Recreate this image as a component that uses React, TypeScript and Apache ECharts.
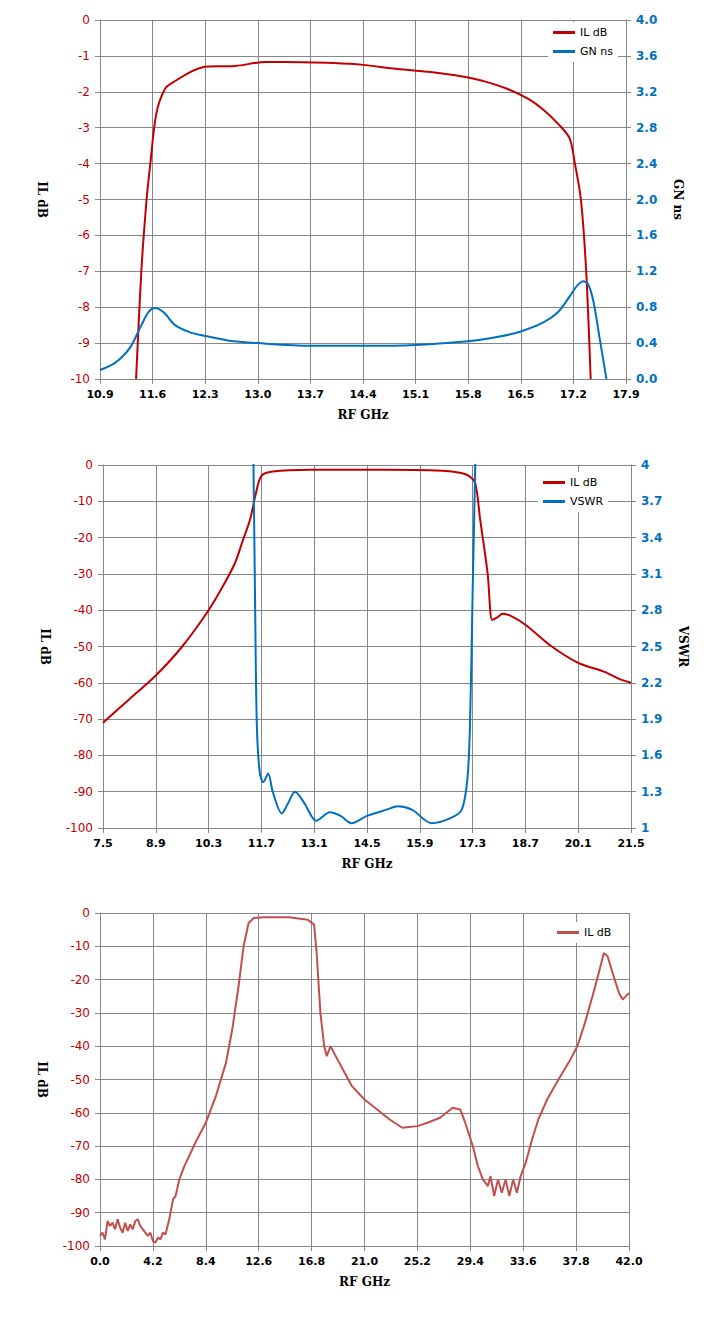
import React, { useEffect, useRef } from 'react'
import * as echarts from 'echarts'

// chart 1: IL dB + group delay
const il1Freq = [11.38, 11.45, 11.52, 11.57, 11.65, 11.77, 11.9, 12.1, 12.3, 12.7, 13.1, 13.6, 14.0, 14.4, 14.8, 15.3, 15.8, 16.0, 16.3, 16.6, 16.8, 17.0, 17.15, 17.22, 17.3, 17.37, 17.43]
const il1Val = [-10, -7, -5, -4, -2.6, -1.9, -1.7, -1.45, -1.3, -1.28, -1.17, -1.18, -1.2, -1.25, -1.35, -1.45, -1.6, -1.7, -1.9, -2.2, -2.5, -2.9, -3.3, -4, -5, -7, -10]
const gnFreq = [10.9, 11.1, 11.3, 11.45, 11.55, 11.63, 11.75, 11.9, 12.1, 12.3, 12.6, 13.0, 13.7, 14.4, 15.1, 15.8, 16.2, 16.5, 16.8, 17.0, 17.15, 17.25, 17.33, 17.4, 17.47, 17.55, 17.64]
const gnVal = [0.1, 0.18, 0.35, 0.6, 0.75, 0.79, 0.74, 0.6, 0.52, 0.48, 0.43, 0.4, 0.37, 0.37, 0.38, 0.42, 0.47, 0.53, 0.63, 0.75, 0.92, 1.04, 1.09, 1.05, 0.85, 0.45, 0]

// chart 2: IL dB + VSWR
const il2Freq = [7.5, 8.2, 8.9, 9.6, 10.3, 10.7, 11.0, 11.2, 11.4, 11.55, 11.7, 12.0, 13.0, 15.0, 16.5, 17.0, 17.2, 17.37, 17.5, 17.7, 17.82, 17.95, 18.1, 18.3, 18.7, 19.4, 20.1, 20.8, 21.2, 21.5]
const il2Val = [-71, -64.5, -58, -50, -40, -33, -27, -21, -15, -8, -3, -1.8, -1.3, -1.3, -1.6, -2.2, -3, -5, -15, -30, -42.7, -42, -41, -41.5, -44, -50, -54.5, -57, -59, -60]
const vswrFreq = [11.45, 11.49, 11.53, 11.58, 11.66, 11.75, 11.88, 12.0, 12.24, 12.4, 12.59, 12.85, 13.15, 13.52, 13.8, 14.09, 14.5, 15.0, 15.33, 15.7, 16.21, 16.7, 17.01, 17.16, 17.23, 17.3, 17.37, 17.42]
const vswrVal = [5, 4.0, 2.94, 1.84, 1.45, 1.38, 1.45, 1.3, 1.12, 1.2, 1.3, 1.2, 1.06, 1.13, 1.1, 1.04, 1.1, 1.15, 1.18, 1.15, 1.04, 1.08, 1.15, 1.4, 1.84, 2.94, 4.0, 5]

// chart 3: wideband IL dB
const il3Freq = [0.0, 0.2, 0.4, 0.6, 0.8, 1.0, 1.2, 1.4, 1.6, 1.8, 2.0, 2.2, 2.4, 2.6, 2.8, 3.0, 3.2, 3.4, 3.6, 3.8, 4.0, 4.2, 4.4, 4.6, 4.8, 5.0, 5.2, 5.5, 5.8, 6.0, 6.3, 6.7, 7.2, 7.7, 8.4, 9.2, 10.0, 10.5, 11.0, 11.4, 11.8, 12.2, 13.0, 15.0, 16.5, 17.0, 17.2, 17.5, 17.8, 18.0, 18.3, 19.0, 20.0, 21.0, 22.0, 23.0, 24.0, 25.2, 26.0, 27.0, 28.0, 28.6, 29.0, 29.6, 30.0, 30.4, 30.8, 31.0, 31.3, 31.6, 31.9, 32.2, 32.5, 32.8, 33.1, 33.4, 33.8, 34.3, 34.8, 35.5, 36.4, 37.2, 37.9, 38.5, 39.1, 39.6, 40.0, 40.3, 40.7, 41.2, 41.5, 42.0]
const il3Val = [-97, -96, -98, -92.5, -94, -93, -95, -92, -94.5, -96, -93, -95.5, -93.5, -95, -92.5, -92, -94, -95, -96, -97, -96, -98.5, -99, -97.5, -98, -96, -96.5, -92, -86, -85, -80, -76, -72, -68, -63, -55, -45, -35, -22, -10, -3, -1.5, -1.3, -1.3, -2, -3.5, -12, -30, -40, -43, -40, -45, -52, -56, -59, -62, -64.5, -64, -63, -61.5, -58.5, -59, -63, -70, -76, -80, -82, -79, -85, -80, -84, -80, -85, -80, -84, -79, -75, -68, -62, -56, -50, -45, -40, -33, -25, -18, -12, -13, -18, -24, -26, -24]

const RED = '#c00000'
const BLUE = '#0070c0'
const RED3 = '#c0504d'
const GRID = '#868686'

const pairs = (xs: number[], ys: number[], dx = 0, dy = 0) => xs.map((x, i) => [x - dx, ys[i] - dy])

const App = () => {
  const chartRef: any = useRef()

  useEffect(() => {
    const chart = echarts.init(chartRef.current, null, { renderer: 'svg' })

    const xAxisBase = (gridIndex: number, max: number, interval: number, offset: number, digits: number) => ({
      type: 'value',
      gridIndex,
      min: 0,
      max,
      interval,
      name: 'RF GHz',
      nameLocation: 'middle',
      nameGap: 30,
      nameTextStyle: { fontFamily: 'DejaVu Serif', fontWeight: 'bold', fontSize: 12, color: '#000' },
      axisLine: { onZero: false, lineStyle: { color: GRID } },
      axisTick: { show: true, length: 5, lineStyle: { color: GRID } },
      axisLabel: {
        color: '#000',
        fontFamily: 'DejaVu Sans',
        fontWeight: 'bold',
        fontSize: 11,
        margin: 10,
        formatter: (v: number) => (v + offset).toFixed(digits)
      },
      splitLine: { show: true, lineStyle: { color: GRID, width: 1 } }
    })

    const yLeft = (gridIndex: number, min: number, interval: number) => ({
      type: 'value',
      gridIndex,
      min,
      max: 0,
      interval,
      name: 'IL dB',
      nameLocation: 'middle',
      nameRotate: -90,
      nameGap: 52,
      nameTextStyle: { fontFamily: 'DejaVu Serif', fontWeight: 'bold', fontSize: 12, color: '#000' },
      axisLine: { show: true, lineStyle: { color: GRID } },
      axisTick: { show: true, length: 5, lineStyle: { color: GRID } },
      axisLabel: { color: RED, fontFamily: 'DejaVu Sans', fontSize: 12, margin: 10 },
      splitLine: { show: true, lineStyle: { color: GRID, width: 1 } }
    })

    const yRight = (gridIndex: number, name: string, max: number, interval: number, offset: number, fmt: (v: number) => string) => ({
      type: 'value',
      gridIndex,
      position: 'right',
      min: 0,
      max,
      interval,
      name,
      nameLocation: 'middle',
      nameRotate: -90,
      nameGap: 46,
      nameTextStyle: { fontFamily: 'DejaVu Serif', fontWeight: 'bold', fontSize: 12, color: '#000' },
      axisLine: { show: true, lineStyle: { color: GRID } },
      axisTick: { show: true, length: 5, lineStyle: { color: GRID } },
      axisLabel: { color: BLUE, fontFamily: 'DejaVu Sans', fontWeight: 'bold', fontSize: 12, margin: 10, formatter: (v: number) => fmt(v + offset) },
      splitLine: { show: false }
    })

    const legendBase = {
      orient: 'vertical',
      itemWidth: 22,
      itemHeight: 3,
      itemGap: 8,
      icon: 'rect',
      textStyle: { fontFamily: 'DejaVu Sans', fontSize: 11, color: '#000' },
      backgroundColor: '#fff'
    }

    const line = (name: string, color: string, xAxisIndex: number, yAxisIndex: number, data: any) => ({
      type: 'line',
      name,
      xAxisIndex,
      yAxisIndex,
      data,
      showSymbol: false,
      smooth: 0.3,
      clip: true,
      lineStyle: { color, width: 2 },
      itemStyle: { color }
    })

    chart.setOption({
      animation: false,
      backgroundColor: '#fff',
      grid: [
        { left: 100, top: 20, width: 526, height: 359 },
        { left: 103, top: 465, width: 528, height: 363 },
        { left: 100, top: 913, width: 529, height: 333 }
      ],
      legend: [
        { ...legendBase, left: 548, top: 22, data: ['IL dB', 'GN ns'] },
        { ...legendBase, left: 538, top: 472, data: ['IL dB ', 'VSWR'] },
        { ...legendBase, left: 552, top: 922, data: ['IL dB  '] }
      ],
      xAxis: [
        xAxisBase(0, 7, 0.7, 10.9, 1),
        xAxisBase(1, 14, 1.4, 7.5, 1),
        xAxisBase(2, 42, 4.2, 0, 1)
      ],
      yAxis: [
        yLeft(0, -10, 1),
        yRight(0, 'GN ns', 4, 0.4, 0, (v) => v.toFixed(1)),
        yLeft(1, -100, 10),
        yRight(1, 'VSWR', 3, 0.3, 1, (v) => String(parseFloat(v.toFixed(1)))),
        yLeft(2, -100, 10)
      ],
      series: [
        line('IL dB', RED, 0, 0, pairs(il1Freq, il1Val, 10.9)),
        line('GN ns', BLUE, 0, 1, pairs(gnFreq, gnVal, 10.9)),
        line('IL dB ', RED, 1, 2, pairs(il2Freq, il2Val, 7.5)),
        line('VSWR', BLUE, 1, 3, pairs(vswrFreq, vswrVal, 7.5, 1)),
        { ...line('IL dB  ', RED3, 2, 4, pairs(il3Freq, il3Val)), smooth: false }
      ]
    })

    return () => {
      chart.dispose()
    }
  }, [])

  return (
    <div style={{ position: 'absolute', left: 0, top: 0, width: 718, height: 1332 }} ref={chartRef}></div>
  )
}
export default App
